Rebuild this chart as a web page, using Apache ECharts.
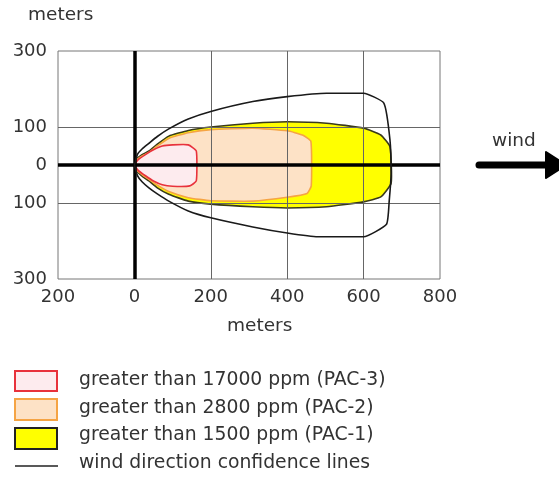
<!DOCTYPE html>
<html>
<head>
<meta charset="utf-8">
<script src="https://cdn.jsdelivr.net/npm/echarts@6/dist/echarts.min.js"></script>
<style>
  html, body { margin: 0; padding: 0; background: #fff; }
  #plume { width: 559px; height: 477px; }
</style>
</head>
<body>
<div id="plume"></div>
<script>
  // tick values (meters)
  var xTicks = [-200, 0, 200, 400, 600, 800];
  var yTicks = [-300, -100, 0, 100, 300];
  var xGrid = [200, 400, 600];
  var yGrid = [100, -100];

  // threat zones, [downwind m, crosswind m]
  var pac1 = [[0, 0], [8, 18], [20, 27], [38, 37], [60, 55], [90, 76], [141, 91], [200, 100], [310, 110],
    [400, 114], [503, 110], [600, 97], [645, 79], [669, 48], [672, -48], [645, -84], [600, -97], [503, -110],
    [400, -113], [310, -110], [200, -103], [141, -95], [90, -77], [60, -60], [38, -42], [20, -29], [8, -18]];
  var pac2 = [[0, 0], [8, 15], [20, 24], [38, 33], [60, 50], [90, 70], [141, 85], [200, 93], [310, 97],
    [400, 90], [440, 79], [462, 62], [463, -55], [452, -75], [400, -85], [310, -95], [200, -94], [141, -86],
    [90, -70], [60, -53], [38, -38], [20, -25], [8, -15]];
  var pac3 = [[0, 0], [10, 14], [30, 28], [50, 40], [73, 50], [100, 53], [141, 53], [162, 37], [162, -42],
    [145, -55], [100, -56], [73, -52], [50, -42], [30, -29], [10, -14]];
  var confidence = [[0, 0], [8, 28], [20, 42], [38, 57], [60, 75], [90, 95], [141, 121], [200, 141],
    [310, 167], [400, 180], [503, 189], [600, 189], [653, 163], [669, 66], [672, -22], [667, -95],
    [660, -156], [600, -189], [480, -189], [400, -179], [310, -163], [200, -139], [141, -121], [90, -95],
    [60, -76], [38, -60], [20, -44], [8, -28], [0, 0]];

  var legendNames = ['greater than 17000 ppm (PAC-3)', 'greater than 2800 ppm (PAC-2)',
    'greater than 1500 ppm (PAC-1)', 'wind direction confidence lines'];

  var font = 'DejaVu Sans, Verdana, sans-serif';

  function zone(name, pts, fill, stroke, z) {
    return {
      name: name,
      type: 'custom',
      z: z,
      silent: true,
      data: [0],
      renderItem: function (params, api) {
        return {
          type: 'polygon',
          shape: { points: pts.map(function (p) { return api.coord(p); }), smooth: 0.15 },
          style: { fill: fill, stroke: stroke, lineWidth: 1.6 }
        };
      }
    };
  }

  var markData = [];
  xGrid.forEach(function (v) { markData.push({ xAxis: v }); });
  yGrid.forEach(function (v) { markData.push({ yAxis: v }); });
  markData.push({ xAxis: 0, lineStyle: { color: '#000', width: 3.5 } });
  markData.push({ yAxis: 0, lineStyle: { color: '#000', width: 3.5 } });

  var chart = echarts.init(document.getElementById('plume'));
  var option = {
    animation: false,
    grid: { left: 58, right: 119, top: 51, bottom: 198, show: true, borderColor: '#777', borderWidth: 1 },
    xAxis: {
      type: 'value', min: -200, max: 800, interval: 200,
      axisLine: { show: false }, axisTick: { show: false }, splitLine: { show: false },
      axisLabel: {
        margin: 9, color: '#333', fontSize: 18, fontFamily: font,
        formatter: function (v) { return String(Math.abs(v)); }
      }
    },
    yAxis: {
      type: 'value', min: -300, max: 300, interval: 100,
      axisLine: { show: false }, axisTick: { show: false }, splitLine: { show: false },
      axisLabel: {
        margin: 11, color: '#333', fontSize: 18, fontFamily: font,
        customValues: yTicks,
        formatter: function (v) { return yTicks.indexOf(v) >= 0 ? String(Math.abs(v)) : ''; }
      }
    },
    series: [
      zone(legendNames[2], pac1, '#ffff00', '#3a3a1a', 2),
      zone(legendNames[1], pac2, '#fde2c6', '#f5a444', 3),
      zone(legendNames[0], pac3, '#fdebee', '#e8323c', 4),
      {
        name: legendNames[3],
        type: 'line',
        z: 5,
        silent: true,
        showSymbol: false,
        smooth: 0.15,
        data: confidence,
        lineStyle: { color: '#1a1a1a', width: 1.6 },
        markLine: {
          silent: true,
          symbol: ['none', 'none'],
          label: { show: false },
          lineStyle: { color: '#666', width: 1, type: 'solid' },
          data: markData
        }
      }
    ],
    graphic: [
      { type: 'text', left: 28, top: 6, style: { text: 'meters', fill: '#333', font: '18.5px ' + font } },
      { type: 'text', left: 227, top: 317, style: { text: 'meters', fill: '#333', font: '18.5px ' + font } },
      { type: 'text', left: 492, top: 132, style: { text: 'wind', fill: '#333', font: '18.5px ' + font } },
      { type: 'line', shape: { x1: 479, y1: 165, x2: 550, y2: 165 }, style: { stroke: '#000', lineWidth: 7, lineCap: 'round' } },
      { type: 'polygon', shape: { points: [[546, 152], [566, 165], [546, 178]] }, style: { fill: '#000', stroke: '#000', lineWidth: 2, lineJoin: 'round' } },

      { type: 'rect', shape: { x: 15, y: 371, width: 42, height: 20 }, style: { fill: '#fdebee', stroke: '#e8323c', lineWidth: 2 } },
      { type: 'rect', shape: { x: 15, y: 399, width: 42, height: 21 }, style: { fill: '#fde2c6', stroke: '#f5a444', lineWidth: 2 } },
      { type: 'rect', shape: { x: 15, y: 428, width: 42, height: 21 }, style: { fill: '#ffff00', stroke: '#222', lineWidth: 2 } },
      { type: 'line', shape: { x1: 15, y1: 466, x2: 58, y2: 466 }, style: { stroke: '#222', lineWidth: 1.5 } },
      { type: 'text', left: 79, top: 371, style: { text: legendNames[0], fill: '#333', font: '18.8px ' + font } },
      { type: 'text', left: 79, top: 399, style: { text: legendNames[1], fill: '#333', font: '18.8px ' + font } },
      { type: 'text', left: 79, top: 426, style: { text: legendNames[2], fill: '#333', font: '18.8px ' + font } },
      { type: 'text', left: 79, top: 454, style: { text: legendNames[3], fill: '#333', font: '18.8px ' + font } }
    ]
  };
  chart.setOption(option);
</script>
</body>
</html>
